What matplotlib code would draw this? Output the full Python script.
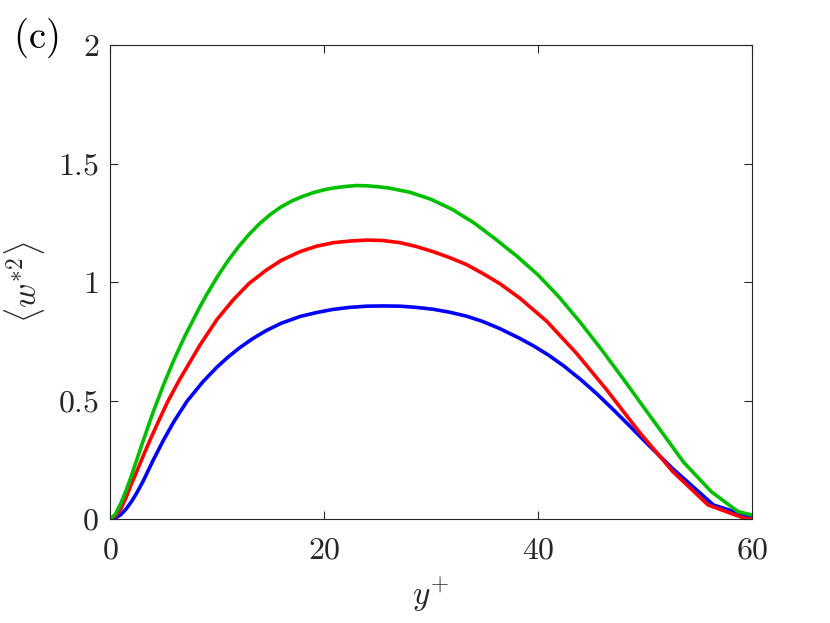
import matplotlib
matplotlib.use("Agg")
import matplotlib.pyplot as plt

plt.rcParams['mathtext.fontset'] = 'cm'
plt.rcParams['font.family'] = 'serif'
plt.rcParams['font.serif'] = ['cmr10', 'DejaVu Serif']

# ---- data ----
green_x = [0, 0.5, 1, 1.5, 2, 2.5, 3, 3.5, 4, 5, 6, 7, 8.41, 9, 10, 11, 12, 13, 14, 15, 16,
           17, 18, 19, 20, 21, 22, 23, 24, 25, 26, 28, 30, 32, 34, 36, 38, 40, 42, 44, 46,
           48, 50, 52, 53.6, 56.2, 58.7, 60]
green_y = [0, 0.02, 0.065, 0.12, 0.182, 0.25, 0.317, 0.382, 0.447, 0.566, 0.674, 0.772,
           0.896, 0.944, 1.020, 1.088, 1.148, 1.201, 1.247, 1.2855, 1.317, 1.342, 1.361,
           1.377, 1.389, 1.3975, 1.403, 1.407, 1.406, 1.402, 1.397, 1.379, 1.349, 1.306,
           1.250, 1.182, 1.110, 1.030, 0.935, 0.827, 0.711, 0.589, 0.464, 0.34, 0.24, 0.115,
           0.031, 0.017]

red_x = [0, 0.5, 1, 1.5, 2, 2.5, 3, 3.74, 4.5, 5.39, 6.5, 8.41, 10, 11.5, 13, 14.6, 16,
         17.76, 19.3, 20.9, 22.5, 24, 25.5, 27.1, 28.6, 30.2, 31.8, 33.3, 34.8, 36.4, 38.3,
         40.8, 43.6, 46.4, 49.5, 52.6, 55.9, 59.3, 60]
red_y = [0, 0.012, 0.042, 0.09, 0.148, 0.2, 0.255, 0.333, 0.409, 0.495, 0.588, 0.734, 0.842,
         0.924, 0.994, 1.05, 1.091, 1.128, 1.151, 1.166, 1.173, 1.177, 1.175, 1.166, 1.150,
         1.128, 1.102, 1.074, 1.037, 0.994, 0.932, 0.835, 0.699, 0.546, 0.365, 0.200, 0.059,
         0.003, 0.0]

blue_x = [0, 0.5, 1, 1.5, 2, 2.5, 3.1, 4, 5, 6, 7.2, 8.7, 10, 11, 12.1, 13.3, 14.6, 16, 17.8,
          19.3, 20.8, 22.4, 24, 25.5, 27.1, 28.6, 30.2, 31.8, 33.3, 34.8, 36.4, 38.3, 39.6,
          41, 42.4, 44, 45.5, 47, 48.6, 50.6, 52.6, 56.4, 59.8, 60]
blue_y = [0, 0.004, 0.018, 0.042, 0.073, 0.11, 0.16, 0.245, 0.333, 0.413, 0.497, 0.58, 0.641,
          0.682, 0.722, 0.760, 0.795, 0.826, 0.855, 0.871, 0.884, 0.893, 0.898, 0.899, 0.898,
          0.893, 0.885, 0.872, 0.856, 0.834, 0.804, 0.762, 0.730, 0.691, 0.646, 0.588, 0.528,
          0.463, 0.391, 0.30, 0.212, 0.059, 0.01, 0.005]

x_ticks = [0, 20, 40, 60]
x_tick_labels = ['0', '20', '40', '60']
y_ticks = [0, 0.5, 1, 1.5, 2]
y_tick_labels = ['0', '0.5', '1', '1.5', '2']

# ---- figure ----
fig = plt.figure(figsize=(8.30, 6.23), dpi=100)
ax = fig.add_axes([110/830, 1 - 519/623, (752 - 110)/830, (519 - 45)/623])

lw = 2.6
ax.plot(blue_x, blue_y, color='#0000FF', lw=lw)
ax.plot(red_x, red_y, color='#FF0000', lw=lw)
ax.plot(green_x, green_y, color='#00BF00', lw=lw)

ax.set_xlim(0, 60)
ax.set_ylim(0, 2)
ax.set_xticks(x_ticks)
ax.set_xticklabels(['$' + t + '$' for t in x_tick_labels])
ax.set_yticks(y_ticks)
ax.set_yticklabels(['$' + t + '$' for t in y_tick_labels])

edge = '#262626'
for s in ax.spines.values():
    s.set_color(edge)
    s.set_linewidth(0.8)
ax.tick_params(axis='both', direction='in', length=6, width=0.8, color=edge,
               labelcolor=edge, labelsize=23, top=True, right=True)
ax.tick_params(axis='x', pad=13)
ax.tick_params(axis='y', pad=8)

ax.set_xlabel(r'$y^{+}$', fontsize=24, color=edge, labelpad=8)
ax.set_ylabel(r'$\langle w^{*2}\rangle$', fontsize=24, color=edge, labelpad=8)

fig.text(36/830, 1 - 38/623, r'$\mathrm{(c)}$', fontsize=28, color='black',
         ha='center', va='center')

fig.savefig('out.png', dpi=100, facecolor='white')
